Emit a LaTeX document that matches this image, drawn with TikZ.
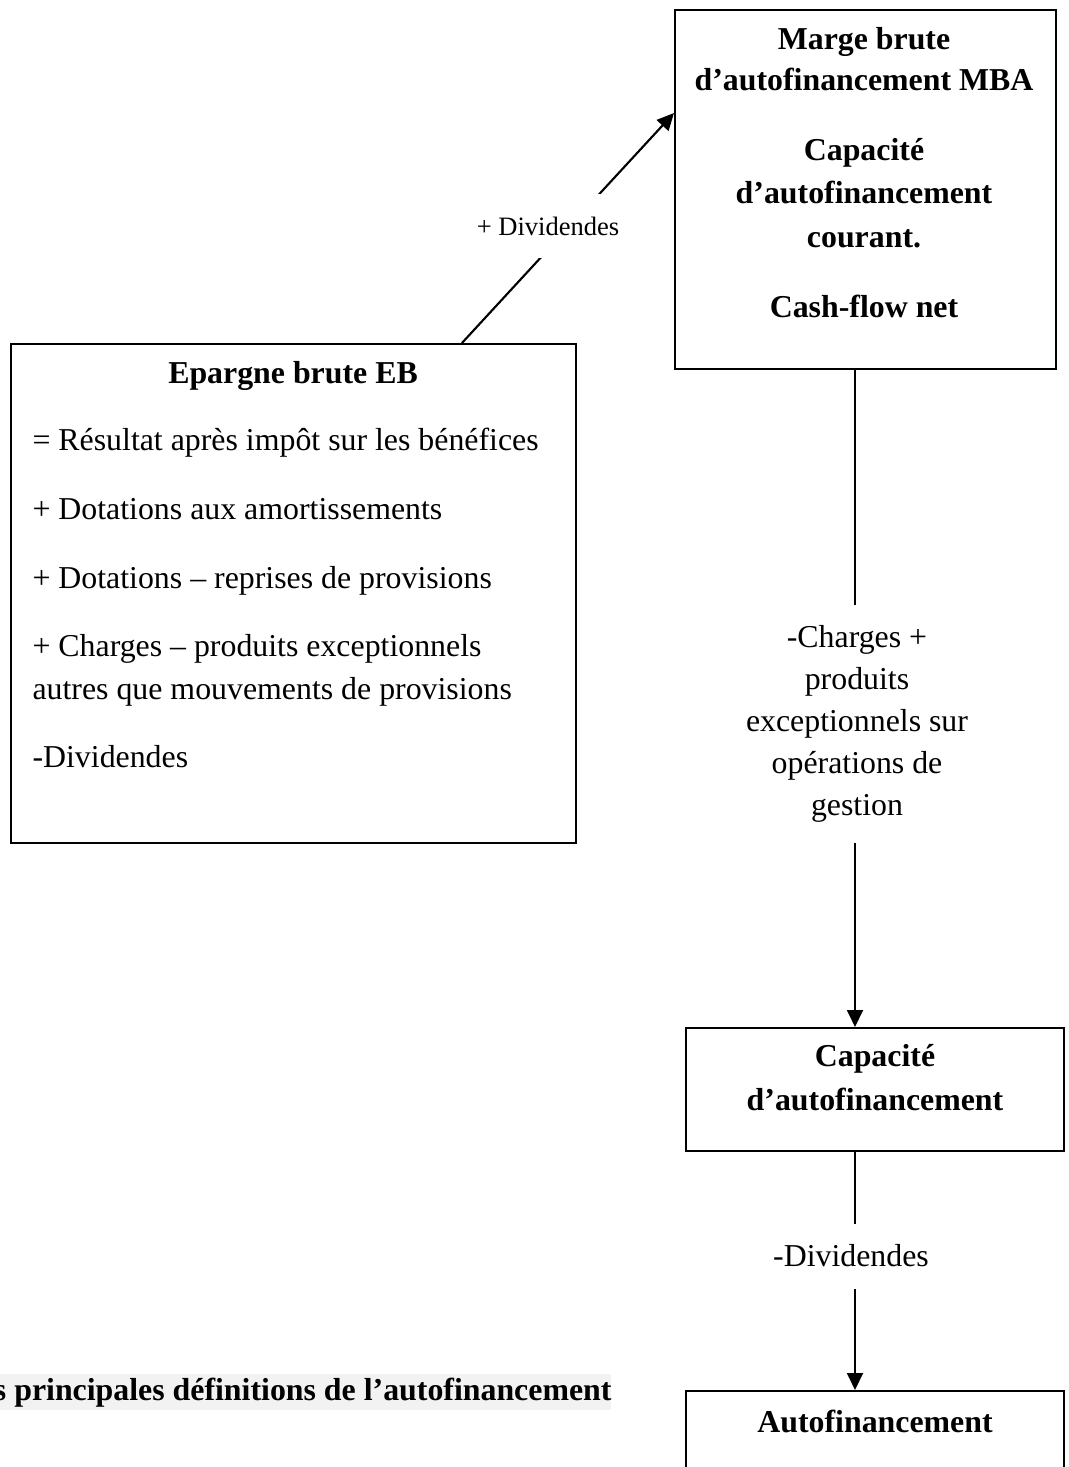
\documentclass[tikz,border=0pt]{standalone}
\usepackage{fontspec}
\setmainfont{Liberation Serif}
\usetikzlibrary{arrows.meta}
\begin{document}
\begin{tikzpicture}[x=0.3768pt,y=-0.3768pt,
  frame/.style={draw, line width=0.75pt, inner sep=0pt, anchor=north west},
  txt/.style={inner sep=0pt, font=\fontsize{12}{14}\selectfont},
  btxt/.style={inner sep=0pt, font=\fontsize{12}{14}\selectfont\bfseries},
  link/.style={line width=0.8pt},
  arrowlink/.style={link, -{Triangle[length=6.4pt,width=6pt]}},
  gap/.style={fill=white, inner sep=0pt, align=center}]
\useasboundingbox (0,0) rectangle (1069,1467);
\clip (0,0) rectangle (1069,1467);

% boxes
\node[frame, minimum width=212.9pt, minimum height=188.0pt] (eb) at (10,343) {};
\node[frame, minimum width=143.6pt, minimum height=135.3pt] (mba) at (674,9) {};
\node[frame, minimum width=142.4pt, minimum height=46.3pt] (caf) at (685,1027) {};
\node[frame, minimum width=142.4pt, minimum height=40pt] (af) at (685,1390) {};

% vertical axis of the right-hand column
\coordinate (axis) at (855,0);

% connectors
\draw[arrowlink] ([xshift=170.3pt]eb.north west) -- ([yshift=-39.2pt]mba.north west);
\node[gap, minimum width=60.3pt, minimum height=24.1pt,
      font=\fontsize{10}{12}\selectfont] (lplus) at (548,226) {+ Dividendes};

\draw[arrowlink] (mba.south -| axis) -- (caf.north -| axis);
\node[gap, minimum width=86pt, minimum height=89.7pt,
      font=\fontsize{12}{15.8}\selectfont] (lchg) at (857,724)
  {-Charges +\\produits\\exceptionnels sur\\opérations de\\gestion};

\draw[arrowlink] (caf.south -| axis) -- (af.north -| axis);
\node[gap, minimum width=70pt, minimum height=24.5pt,
      font=\fontsize{12}{14}\selectfont] (ldiv) at (851,1256) {-Dividendes};

% Marge brute d'autofinancement
\node[btxt, anchor=base] (m1) at (864,50) {Marge brute};
\node[btxt, anchor=base] (m2) at (864,91) {d’autofinancement MBA};
\node[btxt, anchor=base] (m3) at (864,160) {Capacité};
\node[btxt, anchor=base] (m4) at (864,203) {d’autofinancement};
\node[btxt, anchor=base] (m5) at (864,247) {courant.};
\node[btxt, anchor=base] (m6) at (864,317) {Cash-flow net};

% Epargne brute
\node[btxt, anchor=base] (e0) at (293,383) {Epargne brute EB};
\node[txt, anchor=base west] (e1) at (32,450) {= Résultat après impôt sur les bénéfices};
\node[txt, anchor=base west] (e2) at (32,519) {+ Dotations aux amortissements};
\node[txt, anchor=base west] (e3) at (32,588) {+ Dotations – reprises de provisions};
\node[txt, anchor=base west] (e4) at (32,656) {+ Charges – produits exceptionnels};
\node[txt, anchor=base west] (e5) at (32,699) {autres que mouvements de provisions};
\node[txt, anchor=base west] (e6) at (32,767) {-Dividendes};

% Capacite d'autofinancement
\node[btxt, anchor=base] (c1) at (875,1066) {Capacité};
\node[btxt, anchor=base] (c2) at (875,1110) {d’autofinancement};

% Autofinancement
\node[btxt, anchor=base] (a1) at (875,1432) {Autofinancement};

% caption line
\node[btxt, anchor=base east, fill=black!5, inner ysep=1.2pt] (cap) at (612,1400)
  {s principales définitions de l’autofinancement};
\end{tikzpicture}
\end{document}
